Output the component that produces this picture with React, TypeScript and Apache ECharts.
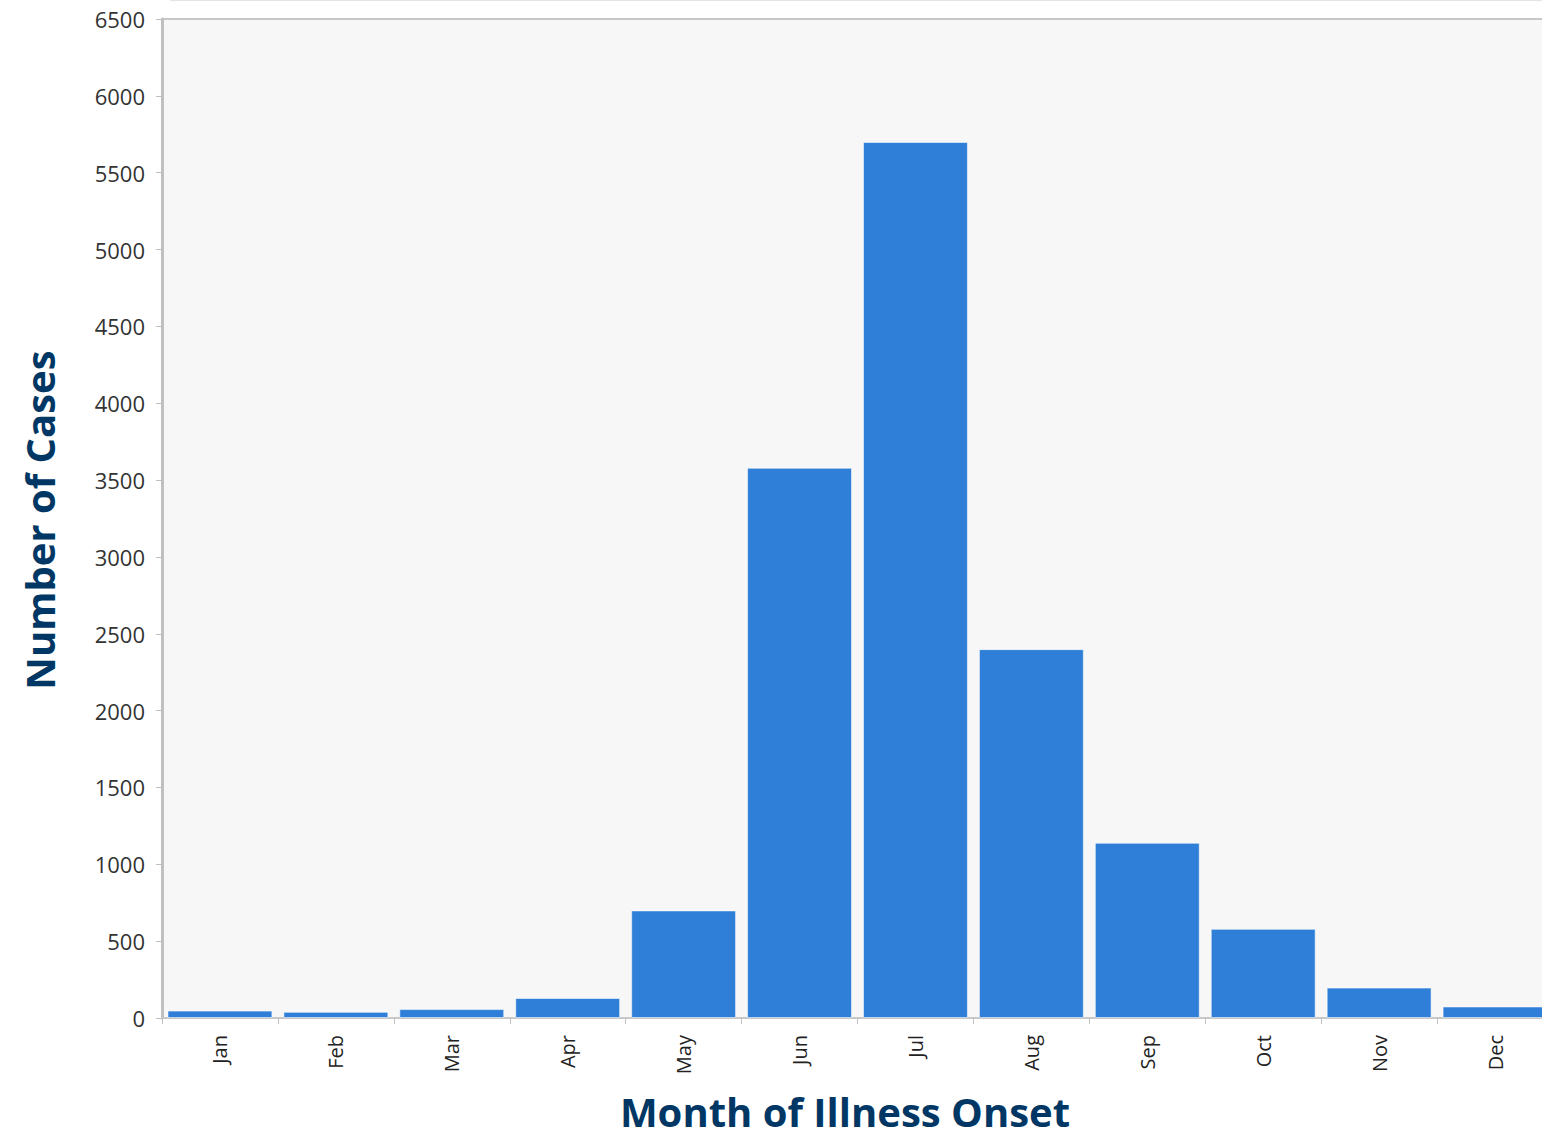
import React, { useEffect, useRef } from "react";
import * as echarts from "echarts";

// Monthly case counts by month of illness onset
const months = ["Jan", "Feb", "Mar", "Apr", "May", "Jun", "Jul", "Aug", "Sep", "Oct", "Nov", "Dec"];
const cases = [48, 40, 58, 130, 700, 3580, 5700, 2400, 1140, 580, 198, 75];

const yMin = 0;
const yMax = 6500;
const yStep = 500;

const xTitle = "Month of Illness Onset";
const yTitle = "Number of Cases";

export default function App() {
  const ref = useRef<HTMLDivElement>(null);

  useEffect(() => {
    if (!ref.current) return;
    const chart = echarts.init(ref.current, null, { renderer: "svg" });
    const titleColor = "#003764";
    chart.setOption({
      animation: false,
      backgroundColor: "#ffffff",
      textStyle: { fontFamily: "Open Sans" },
      grid: {
        left: 162,
        right: 0,
        top: 19,
        bottom: 120,
        show: true,
        backgroundColor: "#f7f7f7",
        borderColor: "#c8c8c8",
        borderWidth: 2,
      },
      xAxis: {
        type: "category",
        data: months,
        axisLine: { show: true, lineStyle: { color: "#c8c8c8", width: 2 } },
        axisTick: { show: true, alignWithLabel: false, length: 6, lineStyle: { color: "#c0c0c0", width: 1 } },
        axisLabel: {
          rotate: 90,
          margin: 17,
          color: "#222222",
          fontSize: 20,
          fontFamily: "Open Sans",
        },
        splitLine: { show: false },
      },
      yAxis: {
        type: "value",
        min: yMin,
        max: yMax,
        interval: yStep,
        axisLine: { show: true, lineStyle: { color: "#c0c0c0", width: 3 } },
        axisTick: { show: true, length: 6, lineStyle: { color: "#c0c0c0", width: 1 } },
        axisLabel: {
          margin: 17,
          color: "#333333",
          fontSize: 22,
          fontFamily: "Open Sans",
          formatter: (v: number) => String(v),
        },
        splitLine: { show: false },
      },
      series: [
        {
          type: "bar",
          data: cases,
          barCategoryGap: "9.5%",
          itemStyle: {
            color: "#2f7ed8",
            borderColor: "rgba(255,255,255,0.55)",
            borderWidth: 1,
          },
        },
      ],
      graphic: [
        {
          type: "line",
          shape: { x1: 170, y1: 0.5, x2: 1553, y2: 0.5 },
          style: { stroke: "#e4e4e4", lineWidth: 1 },
        },
        {
          type: "text",
          x: 845,
          y: 1111,
          style: {
            text: xTitle,
            fill: titleColor,
            font: "bold 40px 'Open Sans'",
            lineHeight: 40,
            align: "center",
            verticalAlign: "middle",
          },
        },
        {
          type: "text",
          x: 39,
          y: 520,
          rotation: Math.PI / 2,
          style: {
            text: yTitle,
            fill: titleColor,
            font: "bold 40px 'Open Sans'",
            lineHeight: 40,
            align: "center",
            verticalAlign: "middle",
          },
        },
      ],
    });
    return () => chart.dispose();
  }, []);

  // The plot runs a little past the right edge of the visible frame
  return (
    <div
      style={{
        position: "absolute",
        left: 0,
        top: 0,
        width: 1542,
        height: 1138,
        overflow: "hidden",
      }}
    >
      <div ref={ref} style={{ width: 1553, height: 1138 }} />
    </div>
  );
}
